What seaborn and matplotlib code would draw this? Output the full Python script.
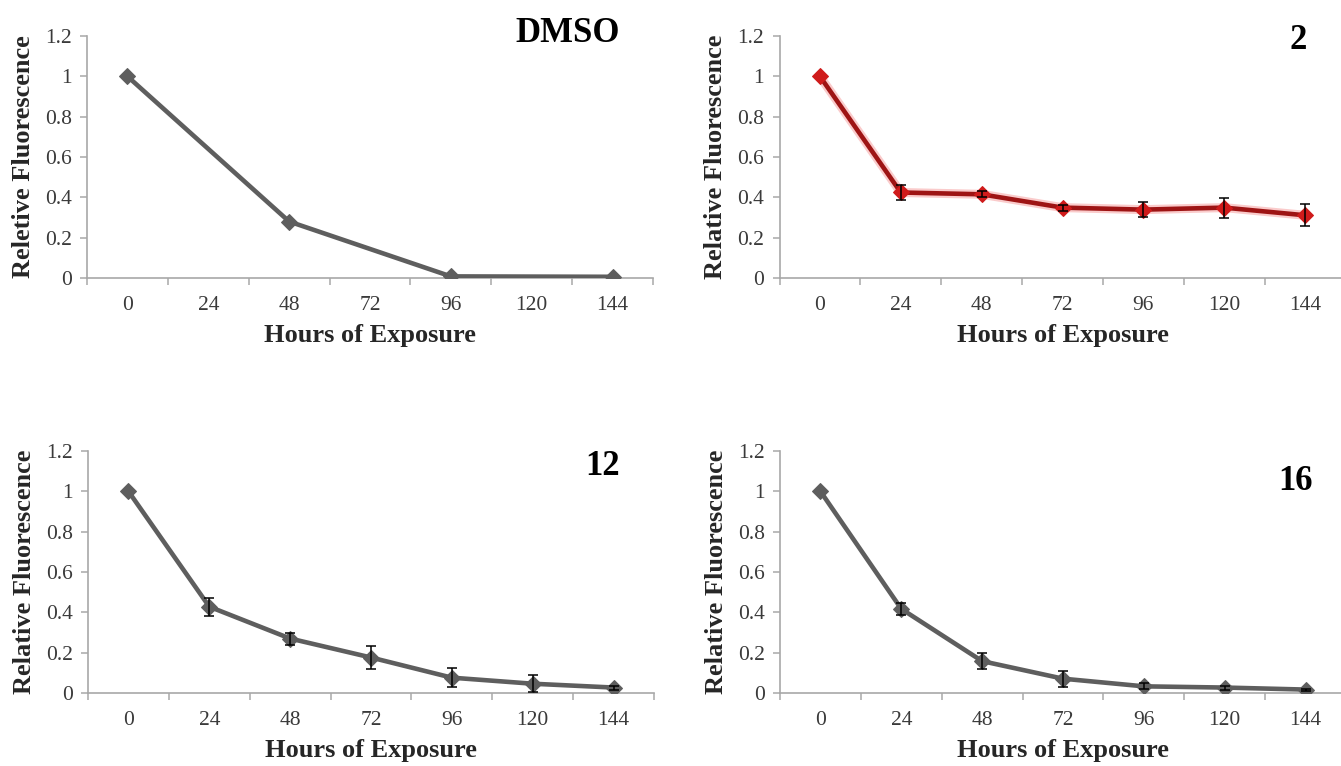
import numpy as np
import pandas as pd
import matplotlib
matplotlib.use("Agg")
import matplotlib.pyplot as plt
from matplotlib.ticker import FixedLocator
import seaborn as sns

# ---------------- data ----------------
hours = [0, 24, 48, 72, 96, 120, 144]

dmso_vals = [1.0, np.nan, 0.28, np.nan, 0.008, np.nan, 0.006]
dmso_err = [0, 0, 0, 0, 0, 0, 0]

c2_vals = [1.0, 0.424, 0.415, 0.349, 0.339, 0.349, 0.311]
c2_err = [0.0, 0.037, 0.015, 0.015, 0.038, 0.05, 0.054]

c12_vals = [1.0, 0.428, 0.27, 0.176, 0.076, 0.046, 0.027]
c12_err = [0.0, 0.045, 0.03, 0.055, 0.048, 0.043, 0.01]

c16_vals = [1.0, 0.417, 0.158, 0.071, 0.033, 0.027, 0.017]
c16_err = [0.0, 0.028, 0.04, 0.04, 0.015, 0.01, 0.005]

panel_names = ["DMSO", "2", "12", "16"]
ylabels = ["Reletive Fluorescence", "Relative Fluorescence",
           "Relative Fluorescence", "Relative Fluorescence"]
xlabel = "Hours of Exposure"
yticks = [0, 0.2, 0.4, 0.6, 0.8, 1.0, 1.2]
ytick_labels = ["0", "0.2", "0.4", "0.6", "0.8", "1", "1.2"]

# ---------------- style ----------------
sns.set_style("white")
plt.rcParams["font.family"] = ["Liberation Serif", "DejaVu Serif"]

GRAY = "#5e5e5e"
RED_LINE = "#9e1414"
RED_MARK = "#cf1b1b"
AXCOL = "#a8a8a8"

fig = plt.figure(figsize=(13.41, 7.66), dpi=100)

W = 566 / 1341
H = 242 / 766
positions = [
    (87 / 1341, 1 - 278 / 766),
    (779.5 / 1341, 1 - 278 / 766),
    (88 / 1341, 1 - 693 / 766),
    (780 / 1341, 1 - 693 / 766),
]
label_pos = [(0.85, 1.01), (0.916, 0.98), (0.91, 0.934), (0.91, 0.875)]

series = [
    (dmso_vals, dmso_err, GRAY, GRAY, False),
    (c2_vals, c2_err, RED_LINE, RED_MARK, True),
    (c12_vals, c12_err, GRAY, GRAY, False),
    (c16_vals, c16_err, GRAY, GRAY, False),
]

for i, (vals, errs, lcol, mcol, glow) in enumerate(series):
    ax = fig.add_axes([positions[i][0], positions[i][1], W, H])
    df = pd.DataFrame({"pos": np.arange(len(hours)), "val": vals, "err": errs}).dropna()
    if glow:
        sns.lineplot(data=df, x="pos", y="val", ax=ax, color="#f26a6a",
                     linewidth=6.5, alpha=0.35, zorder=2)
    sns.lineplot(data=df, x="pos", y="val", ax=ax, color=lcol, linewidth=3.3,
                 marker="D", markersize=8, markerfacecolor=mcol,
                 markeredgecolor=mcol, zorder=3)
    e = df[df["err"] > 0]
    if len(e):
        ax.errorbar(e["pos"], e["val"], yerr=e["err"], fmt="none", ecolor="black",
                    elinewidth=1.1, capsize=3.5, capthick=1.1, zorder=4)

    ax.set_xlim(-0.5, len(hours) - 0.5)
    ax.set_ylim(0, 1.2)
    ax.set_xticks(np.arange(len(hours)))
    ax.set_xticklabels([str(h) for h in hours])
    ax.xaxis.set_minor_locator(FixedLocator(np.arange(len(hours) + 1) - 0.5))
    ax.set_yticks(yticks)
    ax.set_yticklabels(ytick_labels)

    ax.tick_params(axis="x", which="major", length=0, pad=13, labelsize=15.5,
                   labelcolor="#3a3a3a")
    ax.tick_params(axis="x", which="minor", length=5, width=1.1, color=AXCOL,
                   direction="out", bottom=True)
    ax.tick_params(axis="y", which="major", length=5, width=1.1, color=AXCOL,
                   direction="out", left=True, pad=6, labelsize=15.5,
                   labelcolor="#3a3a3a")

    for s in ["top", "right"]:
        ax.spines[s].set_visible(False)
    for s in ["left", "bottom"]:
        ax.spines[s].set_color(AXCOL)
        ax.spines[s].set_linewidth(1.2)

    ax.set_xlabel(xlabel, fontsize=19, fontweight="bold")
    ax.set_ylabel(ylabels[i], fontsize=19, fontweight="bold")
    ax.yaxis.set_label_coords(-(52 / 566), 0.5)
    ax.xaxis.set_label_coords(0.5, -(46 / 242))
    ax.patch.set_alpha(0)

    ax.text(label_pos[i][0], label_pos[i][1], panel_names[i], transform=ax.transAxes,
            ha="center", va="center", fontsize=25, fontweight="bold", color="black",
            clip_on=False)

fig.savefig("out.png", dpi=100, facecolor="white")
